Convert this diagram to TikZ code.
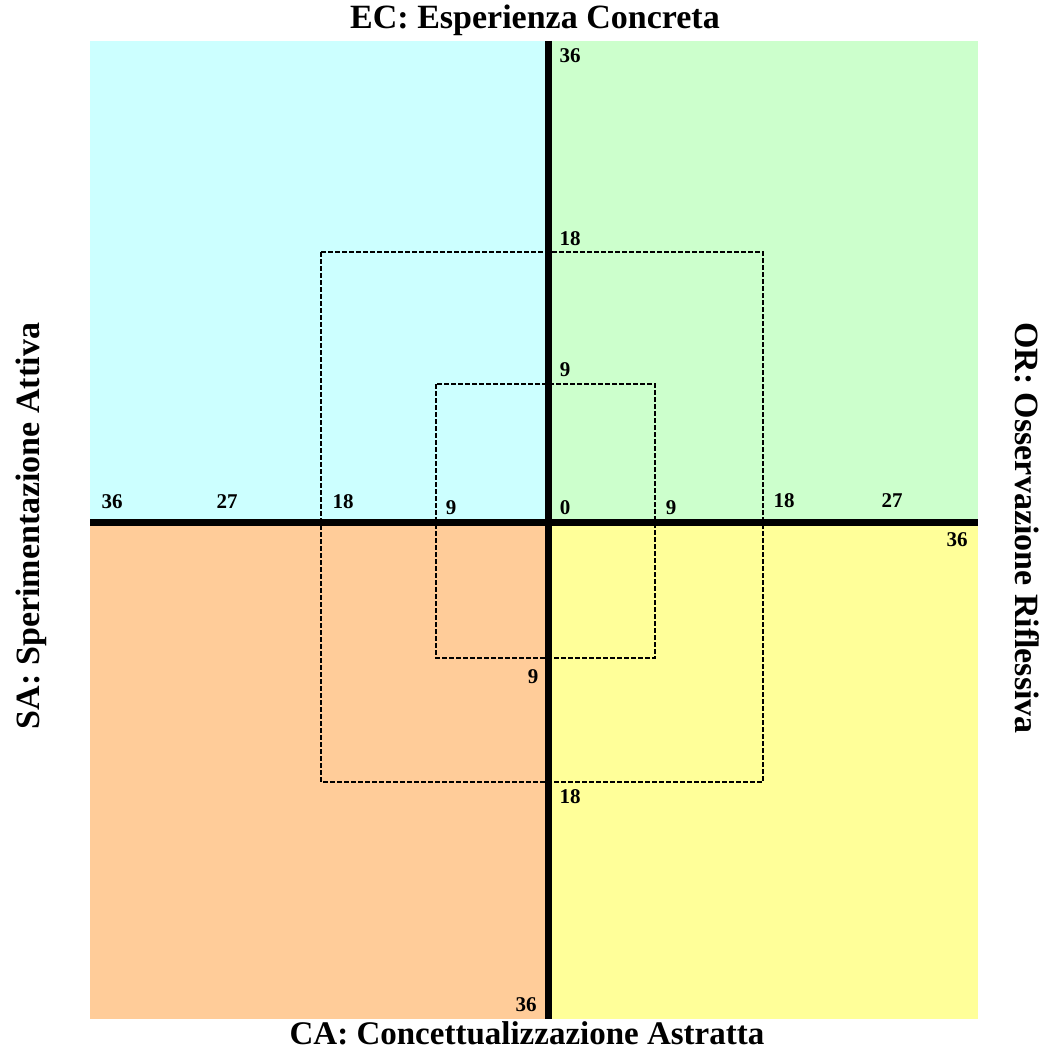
\documentclass[tikz,border=0pt]{standalone}
\usepackage{fontspec}
\setmainfont{Liberation Serif}
\definecolor{qcyan}{HTML}{CCFFFF}
\definecolor{qgreen}{HTML}{CCFFCC}
\definecolor{qorange}{HTML}{FFCC99}
\definecolor{qyellow}{HTML}{FFFF99}
\begin{document}
\begin{tikzpicture}[x=1pt,y=-1pt,
  title/.style={font=\fontsize{34}{40}\selectfont\bfseries, inner sep=0pt},
  num/.style={font=\fontsize{21}{24}\selectfont\bfseries, inner sep=0pt},
  axisline/.style={line width=7pt},
  dashbox/.style={draw, line width=1.5pt, dash pattern=on 5pt off 2pt}]
\useasboundingbox (0,0) rectangle (1043,1054);
% quadrants
\fill[qcyan] (90,41) rectangle (548,522);
\fill[qgreen] (548,41) rectangle (978,522);
\fill[qorange] (90,522) rectangle (548,1019);
\fill[qyellow] (548,522) rectangle (978,1019);
% dashed squares
\draw[dashbox] (321,252) rectangle (763,782);
\draw[dashbox] (436,384) rectangle (655,658);
% axes
\coordinate (xl) at (90,522);
\coordinate (xr) at (978,522);
\coordinate (yt) at (548,41);
\coordinate (yb) at (548,1019);
\draw[axisline] (xl) -- (xr);
\draw[axisline] (yt) -- (yb);
% titles
\node[title] (ec) at (535,20) {EC: Esperienza Concreta};
\node[title, font=\fontsize{33}{40}\selectfont\bfseries] (ca) at (527,1033) {CA: Concettualizzazione Astratta};
\node[title, rotate=90] (sa) at (31,526) {SA: Sperimentazione Attiva};
\node[title, rotate=-90] (or) at (1027,528) {OR: Osservazione Riflessiva};
% horizontal numbers
\node[num] (h36l) at (112,502) {36};
\node[num] (h27l) at (227,502) {27};
\node[num] (h18l) at (343,502) {18};
\node[num] (h9l) at (451,508) {9};
\node[num] (h0) at (565,508) {0};
\node[num] (h9r) at (671,508) {9};
\node[num] (h18r) at (784,501) {18};
\node[num] (h27r) at (892,501) {27};
\node[num] (h36r) at (957,540) {36};
% vertical numbers
\node[num] (v36t) at (570,56) {36};
\node[num] (v18t) at (570,239) {18};
\node[num] (v9t) at (565,370) {9};
\node[num] (v9b) at (533,677) {9};
\node[num] (v18b) at (570,797) {18};
\node[num] (v36b) at (526,1005) {36};
\end{tikzpicture}
\end{document}
